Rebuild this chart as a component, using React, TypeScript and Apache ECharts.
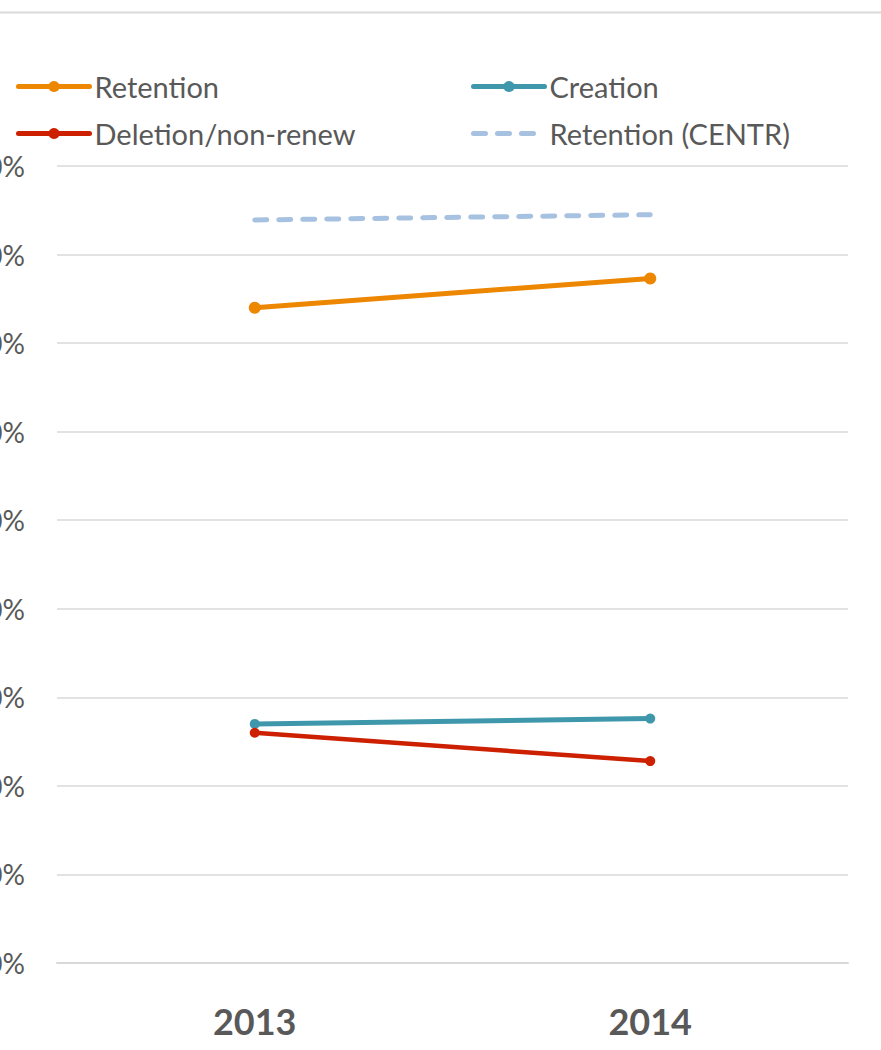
import React, { useEffect, useRef } from "react";
import * as echarts from "echarts";

const years = ["2013", "2014"];
const retention = [0.74, 0.773];
const creation = [0.27, 0.276];
const deletion = [0.26, 0.228];
const retentionCentr = [0.839, 0.845];
const yTicks = [0, 0.1, 0.2, 0.3, 0.4, 0.5, 0.6, 0.7, 0.8, 0.9];

const FONT = "Lato, 'Open Sans', sans-serif";
const GRAY = "#595959";
const ORANGE = "#ED8600";
const TEAL = "#3E97AB";
const RED = "#CC2000";
const LIGHT = "#A7C1E1";

export default function App() {
  const ref = useRef<HTMLDivElement>(null);
  useEffect(() => {
    if (!ref.current) return;
    const chart = echarts.init(ref.current, undefined, { renderer: "svg" });
    const legendBase = {
      orient: "vertical",
      top: 72,
      padding: 0,
      itemWidth: 71,
      itemHeight: 14,
      itemGap: 18,
      textStyle: { fontFamily: FONT, fontSize: 29, color: GRAY },
    };
    chart.setOption({
      animation: false,
      backgroundColor: "#ffffff",
      graphic: [
        {
          type: "line",
          shape: { x1: 0, y1: 12.5, x2: 960, y2: 12.5 },
          style: { stroke: "#d9d9d9", lineWidth: 2 },
        },
      ],
      legend: [
        {
          ...legendBase,
          left: 56,
          data: [
            { name: "Retention", lineStyle: { width: 5, color: ORANGE, cap: "round" }, itemStyle: { color: ORANGE } },
            { name: "Deletion/non-renew", lineStyle: { width: 5, color: RED, cap: "round" }, itemStyle: { color: RED } },
          ],
        },
        {
          ...legendBase,
          left: 511,
          data: [
            { name: "Creation", lineStyle: { width: 5, color: TEAL, cap: "round" }, itemStyle: { color: TEAL } },
            {
              name: "Retention (CENTR)",
              lineStyle: { width: 5, color: LIGHT, type: [12, 12], cap: "round" },
              itemStyle: { opacity: 0 },
            },
          ],
        },
      ],
      grid: { left: 97, right: 33, top: 166, bottom: 87, containLabel: false },
      xAxis: {
        type: "category",
        data: years,
        boundaryGap: true,
        axisLine: { show: true, lineStyle: { color: "#d9d9d9", width: 2 } },
        axisTick: { show: false },
        axisLabel: {
          fontFamily: FONT,
          fontSize: 36,
          fontWeight: "bold",
          color: GRAY,
          margin: 40,
        },
      },
      yAxis: {
        type: "value",
        min: yTicks[0],
        max: yTicks[yTicks.length - 1],
        interval: 0.1,
        axisLine: { show: false },
        axisTick: { show: false },
        splitLine: { lineStyle: { color: "#d9d9d9", width: 1.5 } },
        axisLabel: {
          fontFamily: FONT,
          fontSize: 28,
          color: GRAY,
          margin: 32,
          formatter: (v: number) => Math.round(v * 100) + "%",
        },
      },
      series: [
        {
          name: "Retention",
          type: "line",
          data: retention,
          color: ORANGE,
          symbol: "circle",
          symbolSize: 12,
          lineStyle: { width: 5, color: ORANGE },
          itemStyle: { color: ORANGE },
          z: 3,
        },
        {
          name: "Creation",
          type: "line",
          data: creation,
          color: TEAL,
          symbol: "circle",
          symbolSize: 10,
          lineStyle: { width: 5, color: TEAL },
          itemStyle: { color: TEAL },
          z: 3,
        },
        {
          name: "Deletion/non-renew",
          type: "line",
          data: deletion,
          color: RED,
          symbol: "circle",
          symbolSize: 10,
          lineStyle: { width: 4.5, color: RED },
          itemStyle: { color: RED },
          z: 3,
        },
        {
          name: "Retention (CENTR)",
          type: "line",
          data: retentionCentr,
          color: LIGHT,
          symbol: "none",
          lineStyle: { width: 5, color: LIGHT, type: [12, 12], cap: "round" },
          z: 3,
        },
      ],
    });
    return () => chart.dispose();
  }, []);
  return (
    <div
      style={{
        position: "absolute",
        left: 0,
        top: 0,
        width: 881,
        height: 1050,
        overflow: "hidden",
        background: "#fff",
      }}
    >
      <div
        ref={ref}
        style={{ position: "absolute", left: -40, top: 0, width: 921, height: 1050 }}
      />
    </div>
  );
}
